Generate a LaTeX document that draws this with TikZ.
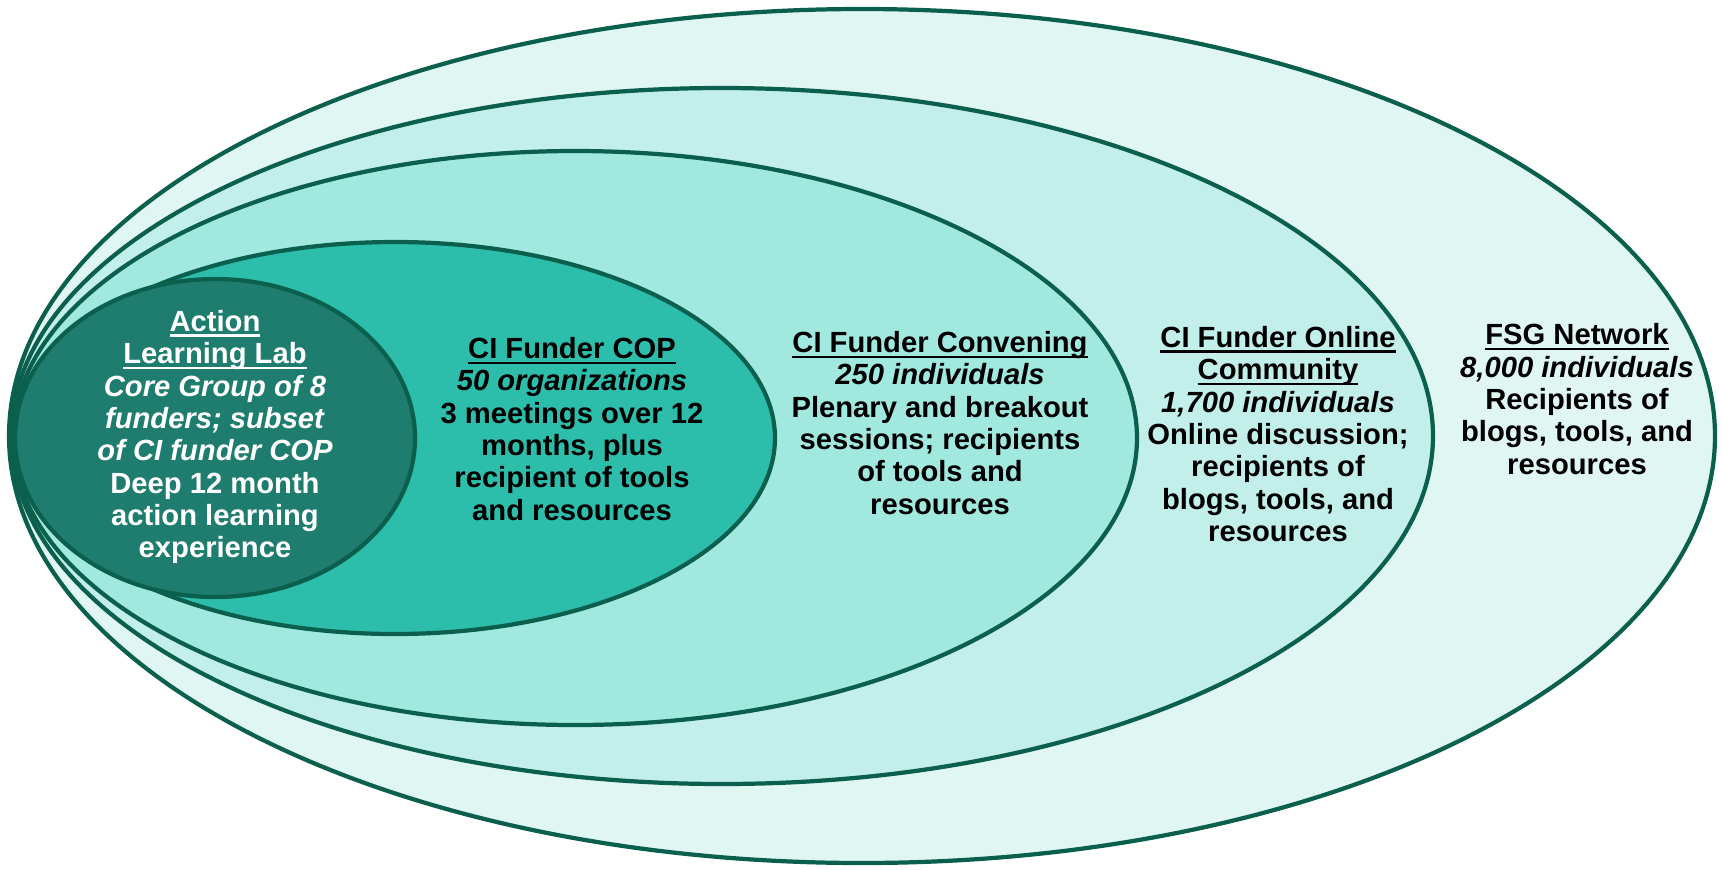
\documentclass[tikz,border=0pt]{standalone}
\usepackage{fontspec}
\setmainfont{Liberation Sans}
\definecolor{rim}{HTML}{0A5F4D}
\definecolor{fsgfill}{HTML}{E0F6F3}
\definecolor{onlinefill}{HTML}{C2EFE9}
\definecolor{convfill}{HTML}{A1E9DF}
\definecolor{copfill}{HTML}{2DBDAB}
\definecolor{labfill}{HTML}{1E7D6F}
% underline that keeps the line spacing
\newcommand{\headline}[1]{\setbox0\hbox{#1}\rlap{\rule[-1.6pt]{\wd0}{0.75pt}}\box0}

\begin{document}
\begin{tikzpicture}[x=0.01cm,y=-0.01cm,
				ring/.style = {draw=rim, line width=1.2pt},
				main text/.style = {align=center, inner sep=0pt,
					font=\fontsize{8.3}{9.2}\selectfont\bfseries}]
				\useasboundingbox (0,0) rectangle (1723,869);
				\fill[white] (0,0) rectangle (1723,869);
				% nested rings, outside in
				\draw[ring,fill=fsgfill] (862,436) ellipse [x radius=853,y radius=-427];
				\draw[ring,fill=onlinefill] (722,436) ellipse [x radius=711,y radius=-348];
				\draw[ring,fill=convfill] (575,438) ellipse [x radius=562,y radius=-287];
				\draw[ring,fill=copfill] (395,438) ellipse [x radius=380,y radius=-196];
				\draw[ring,fill=labfill] (215,438) ellipse [x radius=200,y radius=-159];
				
				\node[main text,text=white] (lab) at (215,437)
					{\headline{Action}\\\headline{Learning Lab}\\
					\textit{Core Group of 8}\\\textit{funders; subset}\\\textit{of CI funder COP}\\
					Deep 12 month\\action learning\\experience};
				\node[main text] (cop) at (572,429)
					{\headline{CI Funder COP}\\\textit{50 organizations}\\
					3 meetings over 12\\months, plus\\recipient of tools\\and resources};
				\node[main text] (conv) at (940,423)
					{\headline{CI Funder Convening}\\\textit{250 individuals}\\
					Plenary and breakout\\sessions; recipients\\of tools and\\resources};
				\node[main text] (online) at (1278,434)
					{\headline{CI Funder Online}\\\headline{Community}\\\textit{1,700 individuals}\\
					Online discussion;\\recipients of\\blogs, tools, and\\resources};
				\node[main text] (fsg) at (1577,399)
					{\headline{FSG Network}\\\textit{8,000 individuals}\\
					Recipients of\\blogs, tools, and\\resources};
				\end{tikzpicture}
\end{document}
